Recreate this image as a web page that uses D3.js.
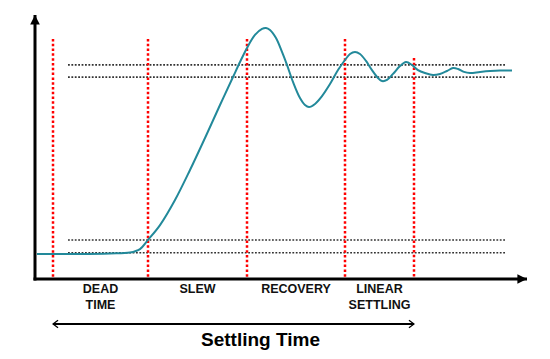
<!DOCTYPE html>
<html>
<head>
<meta charset="utf-8">
<script src="https://cdn.jsdelivr.net/npm/d3@7"></script>
<style>
html,body{margin:0;padding:0;background:#fff;}
svg{display:block;}
text{font-family:"Liberation Sans",Arial,sans-serif;}
</style>
</head>
<body>
<svg id="chart" width="550" height="359"></svg>
<script>
// time (arbitrary units) and normalized response
const time = [2,45,75,95,105,113,125,140,155,170,185,198,205,212,220,227,231,235,241,247,252,258,265,270,274,280,287,295,303,310,315,320,325,331,337,343,347,352,358,365,371,377,383,390,398,405,412,418,423,429,435,445,455,465,477];
const response = [0,0,0.003,0.008,0.027,0.077,0.158,0.295,0.459,0.634,0.814,0.967,1.049,1.126,1.197,1.230,1.235,1.224,1.180,1.104,1.033,0.940,0.852,0.814,0.803,0.820,0.863,0.929,1.005,1.060,1.093,1.104,1.093,1.055,1.005,0.962,0.945,0.951,0.984,1.027,1.049,1.033,1.005,0.989,0.978,0.984,1.000,1.016,1.011,0.995,0.989,0.995,1.000,1.003,1.003];
// phase boundaries (time) and top of each marker (response units)
const phaseTimes = [18,113,212,310,379];
const phaseTops = [1.175,1.175,1.175,1.175,1.071];
const phaseLabels = [["DEAD","TIME"],["SLEW"],["RECOVERY"],["LINEAR","SETTLING"]];
// error bands
const bandLevels = [1.033,0.967,0.0765,0.007];
const bandRange = [33,471];
const axisTimeMax = 492, axisRespMin = -0.137, axisRespMax = 1.306;
const title = "Settling Time";

const svg = d3.select("#chart");
const x = d3.scaleLinear().domain([0,492]).range([35,527]);
const y = d3.scaleLinear().domain([0,1]).range([254,71]);

const defs = svg.append("defs");
defs.append("marker").attr("id","tri").attr("viewBox","0 0 10 10").attr("refX",10).attr("refY",5)
  .attr("markerWidth",3.2).attr("markerHeight",3.2).attr("markerUnits","strokeWidth").attr("orient","auto")
  .append("path").attr("d","M0,0L10,5L0,10Z").attr("fill","#000");
defs.append("marker").attr("id","chev").attr("viewBox","0 0 10 14").attr("refX",9).attr("refY",7)
  .attr("markerWidth",3.5).attr("markerHeight",5.5).attr("markerUnits","strokeWidth").attr("orient","auto-start-reverse")
  .append("path").attr("d","M1,1L9,7L1,13").attr("fill","none").attr("stroke","#000").attr("stroke-width",2);

// bands
svg.append("g").selectAll("line").data(bandLevels).join("line")
  .attr("x1",x(bandRange[0])).attr("x2",x(bandRange[1]))
  .attr("y1",d=>y(d)).attr("y2",d=>y(d))
  .attr("stroke","#333").attr("stroke-width",(d,i)=>i<2?1.8:1.4).attr("stroke-dasharray","1.8,1.6");

// phase markers
svg.append("g").selectAll("line").data(phaseTimes).join("line")
  .attr("x1",d=>x(d)).attr("x2",d=>x(d))
  .attr("y1",(d,i)=>y(phaseTops[i])).attr("y2",y(axisRespMin))
  .attr("stroke","#ff0000").attr("stroke-width",2.5).attr("stroke-dasharray","2.5,2.3");

// curve
const line = d3.line().x((d,i)=>x(time[i])).y(d=>y(d)).curve(d3.curveCatmullRom.alpha(0.5));
svg.append("path").attr("d",line(response)).attr("fill","none")
  .attr("stroke","#22899a").attr("stroke-width",2);

// axes
svg.append("line").attr("x1",x(0)).attr("x2",x(0)).attr("y1",y(axisRespMin)+1.5).attr("y2",y(axisRespMax))
  .attr("stroke","#000").attr("stroke-width",3).attr("marker-end","url(#tri)");
svg.append("line").attr("x1",x(0)-1.5).attr("x2",x(axisTimeMax)).attr("y1",y(axisRespMin)).attr("y2",y(axisRespMin))
  .attr("stroke","#000").attr("stroke-width",3).attr("marker-end","url(#tri)");

// phase labels
const lg = svg.append("g");
phaseLabels.forEach((lab,i)=>{
  const cx = x((phaseTimes[i]+phaseTimes[i+1])/2);
  lab.forEach((t,j)=>{
    lg.append("text").attr("x",cx).attr("y",292.5+j*16.5).attr("text-anchor","middle")
      .attr("font-size",12.5).attr("font-weight","bold").attr("fill","#111").text(t);
  });
});

// settling time arrow
svg.append("line").attr("x1",x(phaseTimes[0])).attr("x2",x(phaseTimes[4])).attr("y1",324).attr("y2",324)
  .attr("stroke","#000").attr("stroke-width",1.8)
  .attr("marker-start","url(#chev)").attr("marker-end","url(#chev)");
svg.append("text").attr("x",(x(phaseTimes[0])+x(phaseTimes[4]))/2+27).attr("y",346).attr("text-anchor","middle")
  .attr("font-size",19).attr("font-weight","bold").attr("fill","#000").text(title);
</script>
</body>
</html>
